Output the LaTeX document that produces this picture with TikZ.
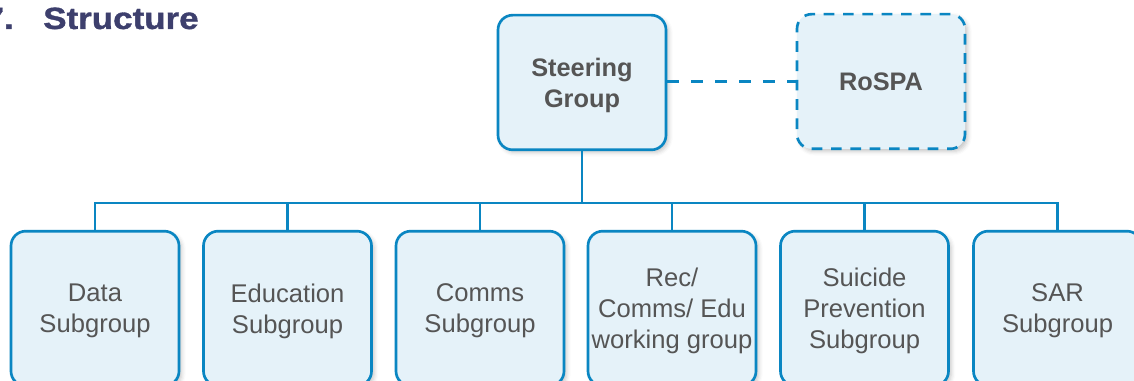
\documentclass[tikz,border=0pt]{standalone}
\usepackage{fontspec}
\setmainfont{Liberation Sans}
\newfontfamily\headfont[FakeStretch=1.14,FakeBold=1.2]{Liberation Sans Bold}
\usetikzlibrary{shadows.blur}

\definecolor{grpline}{HTML}{0A86C2}
\definecolor{grpfill}{HTML}{E5F2F9}
\definecolor{grptext}{HTML}{555555}
\definecolor{headcol}{HTML}{3D3F6D}

\tikzset{
  grp/.style={draw=grpline, line width=2pt, fill=grpfill, rounded corners=11pt,
    minimum width=126pt, align=center, text=grptext, inner sep=0pt, text depth=0pt,
    font=\fontsize{19.2}{23.3}\selectfont,
    blur shadow={shadow xshift=2pt, shadow yshift=-2pt, shadow blur radius=3pt, shadow opacity=22}},
  topgrp/.style={grp, minimum height=101pt, font=\bfseries\fontsize{19}{23.3}\selectfont},
  subgrp/.style={grp, minimum height=116pt},
  link/.style={grpline, line width=2.2pt},
}

\begin{document}
\begin{tikzpicture}[x=0.75pt,y=-0.75pt]
    \useasboundingbox (0,0) rectangle (1134,381);
    \clip (0,0) rectangle (1134,381);

    \node[anchor=base east, inner sep=0, text=headcol, font=\headfont\fontsize{23}{26}\selectfont] (num) at (14,29) {7.};
    \node[anchor=base west, inner sep=0, text=headcol, font=\headfont\fontsize{23}{26}\selectfont] (title) at (43,29) {Structure};

    \node[topgrp] (steer) at (582,82.5) {Steering\\Group};
    \node[topgrp, dash pattern=on 8pt off 6.5pt] (rospa) at (881,81.5) {RoSPA};

    \foreach \n/\x/\t in {1/95/{Data\\Subgroup}, 2/287.5/{Education\\Subgroup}, 3/480/{Comms\\Subgroup},
                          4/672/{Rec/\\Comms/ Edu\\working group}, 5/864.5/{Suicide\\Prevention\\Subgroup},
                          6/1057.5/{SAR\\Subgroup}}
        \node[subgrp] (sg\n) at (\x,308.5) {\t};

    \coordinate (bus) at (582,203);
    \draw[link] (steer.south) -- (bus);
    \foreach \n in {1,...,6} \draw[link] (bus) -| (sg\n.north);

    \draw[link, dash pattern=on 9pt off 9pt] (rospa.west -| steer.east) -- (rospa.west);

\end{tikzpicture}
\end{document}
